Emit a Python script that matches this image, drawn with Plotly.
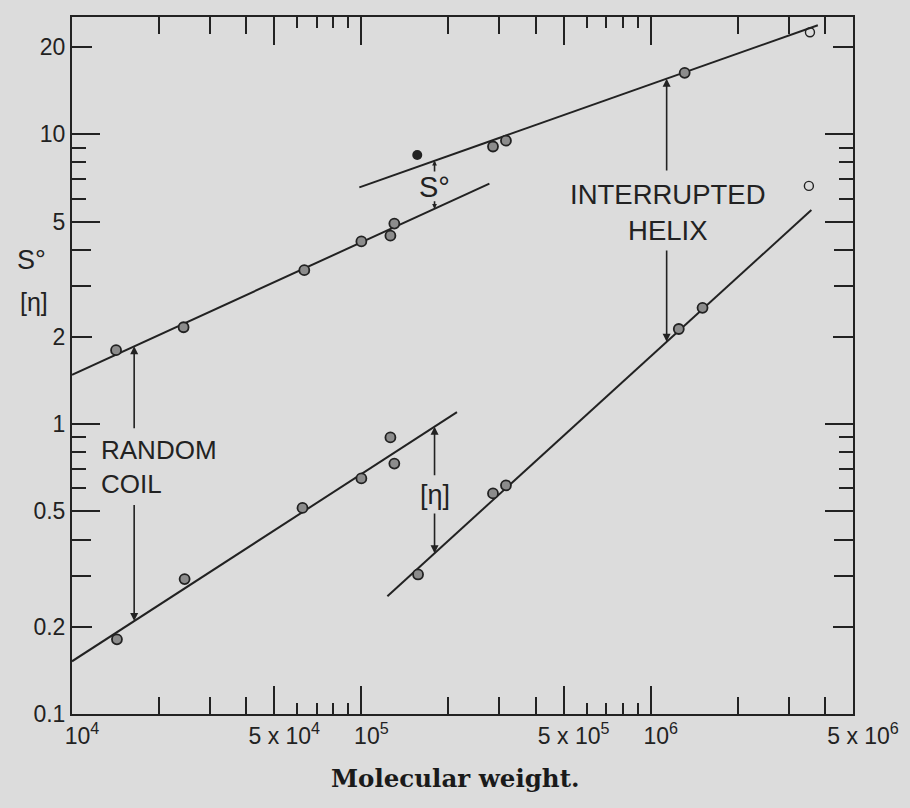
import numpy as np
import plotly.graph_objects as go

# ---------------- data ----------------
# S° (sedimentation constant) vs molecular weight
s_coil_mw = [1.42e4, 2.43e4, 6.35e4, 1.0e5, 1.26e5, 1.30e5]
s_coil_val = [1.80, 2.16, 3.40, 4.27, 4.47, 4.92]
s_helix_mw = [2.85e5, 3.16e5, 1.31e6]
s_helix_val = [9.08, 9.51, 16.3]
s_filled_mw = [1.56e5]
s_filled_val = [8.49]
s_open_mw = [3.55e6]
s_open_val = [22.5]

# [eta] (intrinsic viscosity) vs molecular weight
eta_coil_mw = [1.43e4, 2.45e4, 6.26e4, 1.0e5, 1.26e5, 1.30e5]
eta_coil_val = [0.181, 0.292, 0.514, 0.650, 0.90, 0.731]
eta_helix_mw = [1.57e5, 2.85e5, 3.16e5, 1.25e6, 1.51e6]
eta_helix_val = [0.303, 0.577, 0.615, 2.13, 2.52]
eta_open_mw = [3.52e6]
eta_open_val = [6.64]

# fitted straight lines (end points)
s_coil_line_mw = [1.0e4, 2.77e5]
s_coil_line_val = [1.48, 6.76]
s_helix_line_mw = [9.84e4, 3.78e6]
s_helix_line_val = [6.56, 23.8]
eta_coil_line_mw = [1.0e4, 2.14e5]
eta_coil_line_val = [0.152, 1.10]
eta_helix_line_mw = [1.23e5, 3.59e6]
eta_helix_line_val = [0.255, 5.48]

# arrow positions (molecular weight) and tail values next to the labels
coil_arrow_mw = 1.64e4
coil_arrow_tails = [0.957, 0.532]
helix_arrow_mw = 1.135e6
helix_arrow_tails = [7.41, 4.02]
gap_arrow_mw = 1.79e5
s_gap_tails = [7.35, 5.95]
eta_gap_tails = [0.658, 0.498]

# tick values / labels
x_labeled = [1e4, 5e4, 1e5, 5e5, 1e6, 5e6]
x_labels = ["10<sup>4</sup>", "5 x 10<sup>4</sup>", "10<sup>5</sup>",
            "5 x 10<sup>5</sup>", "10<sup>6</sup>", "5 x 10<sup>6</sup>"]
x_mid = [d * m for d in (1e4, 1e5, 1e6) for m in (2, 3, 4)]
x_small = [d * m for d in (1e4, 1e5, 1e6) for m in (6, 7, 8, 9)]
y_labeled = [0.1, 0.2, 0.5, 1, 2, 5, 10, 20]
y_labels = ["0.1", "0.2", "0.5", "1", "2", "5", "10", "20"]
y_mid = [0.3, 0.4, 3, 4]
y_long = [0.5, 1, 5, 10]
y_small = [d * m for d in (0.1, 1) for m in (6, 7, 8, 9)]

x_range = [1e4, 5e6]
y_range = [0.1, 25.4]

# ---------------- helpers ----------------
def lg(v):
    return float(np.log10(v))

def line_at(xs, ys, x):
    lx = np.log10(xs)
    ly = np.log10(ys)
    return 10 ** (ly[0] + (ly[1] - ly[0]) * (np.log10(x) - lx[0]) / (lx[1] - lx[0]))

INK = "#222222"
BG = "#dcdcdc"
SANS = "Liberation Sans, Arial, sans-serif"

fig = go.Figure()

for xs, ys in [(s_coil_line_mw, s_coil_line_val), (s_helix_line_mw, s_helix_line_val),
               (eta_coil_line_mw, eta_coil_line_val), (eta_helix_line_mw, eta_helix_line_val)]:
    fig.add_trace(go.Scatter(x=xs, y=ys, mode="lines", line=dict(color=INK, width=2),
                             showlegend=False, hoverinfo="skip"))

half = dict(symbol="circle", size=10, color="#8c8c8c", line=dict(width=1.8, color=INK))
for xs, ys in [(s_coil_mw, s_coil_val), (s_helix_mw, s_helix_val),
               (eta_coil_mw, eta_coil_val), (eta_helix_mw, eta_helix_val)]:
    fig.add_trace(go.Scatter(x=xs, y=ys, mode="markers", marker=half, showlegend=False))
fig.add_trace(go.Scatter(x=s_filled_mw, y=s_filled_val, mode="markers",
                         marker=dict(symbol="circle", size=10, color=INK), showlegend=False))
for xs, ys in [(s_open_mw, s_open_val), (eta_open_mw, eta_open_val)]:
    fig.add_trace(go.Scatter(x=xs, y=ys, mode="markers",
                             marker=dict(symbol="circle-open", size=9, color=INK, line=dict(width=1.4)),
                             showlegend=False))

# invisible trace so the overlaid tick axes are drawn
fig.add_trace(go.Scatter(x=[x_range[0]], y=[y_range[0]], xaxis="x2", yaxis="y2", mode="markers",
                         marker=dict(size=1, opacity=0), showlegend=False, hoverinfo="skip"))

# ---------------- arrows ----------------
def arrow(x, y_head, y_tail, size=1.0):
    fig.add_annotation(x=lg(x), y=lg(y_head), ax=lg(x), ay=lg(y_tail),
                       xref="x", yref="y", axref="x", ayref="y", text="",
                       showarrow=True, arrowhead=2, arrowsize=size, arrowwidth=1.6,
                       arrowcolor=INK, standoff=0, startstandoff=0)

arrow(coil_arrow_mw, line_at(s_coil_line_mw, s_coil_line_val, coil_arrow_mw), coil_arrow_tails[0])
arrow(coil_arrow_mw, line_at(eta_coil_line_mw, eta_coil_line_val, coil_arrow_mw), coil_arrow_tails[1])
arrow(helix_arrow_mw, line_at(s_helix_line_mw, s_helix_line_val, helix_arrow_mw), helix_arrow_tails[0])
arrow(helix_arrow_mw, line_at(eta_helix_line_mw, eta_helix_line_val, helix_arrow_mw), helix_arrow_tails[1])
arrow(gap_arrow_mw, line_at(s_helix_line_mw, s_helix_line_val, gap_arrow_mw), s_gap_tails[0], 0.6)
arrow(gap_arrow_mw, line_at(s_coil_line_mw, s_coil_line_val, gap_arrow_mw), s_gap_tails[1], 0.6)
arrow(gap_arrow_mw, line_at(eta_coil_line_mw, eta_coil_line_val, gap_arrow_mw), eta_gap_tails[0])
arrow(gap_arrow_mw, line_at(eta_helix_line_mw, eta_helix_line_val, gap_arrow_mw), eta_gap_tails[1])

fig.add_annotation(x=lg(1.24e4), y=lg(0.71), text="RANDOM<br>COIL", xref="x", yref="y",
                   showarrow=False, xanchor="left", align="left",
                   font=dict(family=SANS, size=26, color=INK))
fig.add_annotation(x=lg(1.15e6), y=lg(5.36), text="INTERRUPTED<br>HELIX", xref="x", yref="y",
                   showarrow=False, xanchor="center", align="center",
                   font=dict(family=SANS, size=27.5, color=INK))
fig.add_annotation(x=lg(gap_arrow_mw), y=lg(6.57), text="S°", xref="x", yref="y",
                   showarrow=False, xanchor="center", font=dict(family=SANS, size=29, color=INK))
fig.add_annotation(x=lg(gap_arrow_mw), y=lg(0.57), text="[η]", xref="x", yref="y",
                   showarrow=False, xanchor="center", font=dict(family=SANS, size=27, color=INK))

# axis labels
fig.add_annotation(x=-0.052, y=0.651, xref="paper", yref="paper", text="S°", showarrow=False,
                   xanchor="center", yanchor="middle", font=dict(family=SANS, size=27, color=INK))
fig.add_annotation(x=-0.049, y=0.591, xref="paper", yref="paper", text="[η]", showarrow=False,
                   xanchor="center", yanchor="middle", font=dict(family=SANS, size=25, color=INK))
fig.add_annotation(x=0.49, y=-0.092, xref="paper", yref="paper", text="<b>Molecular weight.</b>",
                   showarrow=False, xanchor="center", yanchor="middle",
                   font=dict(family="DejaVu Serif, serif", size=24.5, color="#1a1a1a"))

tick_font = dict(family=SANS, size=23, color=INK)
common = dict(type="log", showgrid=False, zeroline=False, ticks="inside", tickcolor=INK, tickwidth=2)

fig.update_layout(
    width=910, height=808,
    margin=dict(l=72, r=57, t=17, b=94),
    paper_bgcolor=BG, plot_bgcolor=BG,
    showlegend=False,
    xaxis=dict(**common, range=[lg(x_range[0]), lg(x_range[1])], tickvals=x_labeled, ticktext=x_labels,
               ticklen=28, showline=True, linecolor=INK, linewidth=2, mirror="allticks",
               tickfont=tick_font, ticklabelshift=10,
               minor=dict(tickvals=x_mid, ticklen=17, ticks="inside", tickcolor=INK, tickwidth=2)),
    yaxis=dict(**common, range=[lg(y_range[0]), lg(y_range[1])], tickvals=y_labeled, ticktext=y_labels,
               ticklen=20, showline=True, linecolor=INK, linewidth=2, mirror="allticks",
               tickfont=tick_font,
               minor=dict(tickvals=y_mid, ticklen=19, ticks="inside", tickcolor=INK, tickwidth=2)),
    xaxis2=dict(**common, range=[lg(x_range[0]), lg(x_range[1])], tickvals=x_small, ticklen=11,
                showticklabels=False, showline=False, overlaying="x", anchor="y2", side="bottom",
                mirror="allticks"),
    yaxis2=dict(**common, range=[lg(y_range[0]), lg(y_range[1])], tickvals=y_long, ticklen=28,
                showticklabels=False, showline=False, overlaying="y", anchor="x2", side="left",
                mirror="allticks",
                minor=dict(tickvals=y_small, ticklen=14, ticks="inside", tickcolor=INK, tickwidth=2)),
)

fig.write_html("out.html", config={"displayModeBar": False},
               post_script="document.body.style.margin='0';document.body.style.background='%s';" % BG)
